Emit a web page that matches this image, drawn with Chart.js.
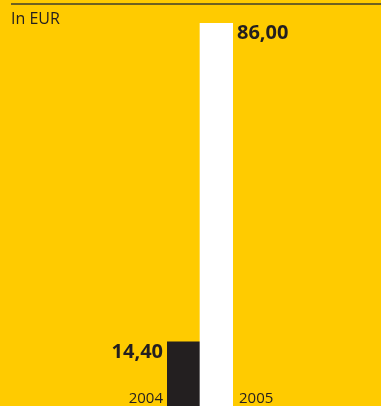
<!DOCTYPE html>
<html>
<head>
<meta charset="utf-8">
<script src="https://cdn.jsdelivr.net/npm/chart.js@4"></script>
<style>
  html, body { margin: 0; padding: 0; background: #FFCB00; }
  #wrap { position: relative; width: 381px; height: 406px; }
</style>
</head>
<body>
<div id="wrap"><canvas id="c"></canvas></div>
<script>
const years = ['2004', '2005'];
const prices = [14.40, 86.00];
const unitLabel = 'In EUR';

const barColors = ['#231f20', '#ffffff'];
const textColor = '#231f20';
const fontFamily = '"Open Sans", "DejaVu Sans", sans-serif';

function fmt(v) {
  return v.toFixed(2).replace('.', ',');
}

const decorations = {
  id: 'decorations',
  afterDatasetsDraw(chart) {
    const ctx = chart.ctx;
    const meta = chart.getDatasetMeta(0);
    ctx.save();

    // rule across the top and the unit caption
    ctx.fillStyle = '#6f6220';
    ctx.fillRect(11, 3, chart.width - 11, 2);
    ctx.fillStyle = textColor;
    ctx.font = '16px ' + fontFamily;
    ctx.textAlign = 'left';
    ctx.textBaseline = 'alphabetic';
    ctx.fillText(unitLabel, 11, 24);

    meta.data.forEach((bar, i) => {
      const half = bar.width / 2;
      const first = i === 0;
      const x = first ? bar.x - half - 4 : bar.x + half + 4;
      ctx.textAlign = first ? 'right' : 'left';

      // value label beside the bar top
      ctx.font = 'bold 20px ' + fontFamily;
      ctx.fillText(fmt(prices[i]), x, bar.y + 16);

      // year label beside the bar foot
      ctx.font = '15px ' + fontFamily;
      ctx.fillText(years[i], first ? x : x + 2, chart.chartArea.bottom - 3);
    });
    ctx.restore();
  }
};

new Chart(document.getElementById('c'), {
  type: 'bar',
  data: {
    labels: years,
    datasets: [{
      data: prices,
      backgroundColor: barColors,
      borderWidth: 0,
      barPercentage: 1,
      categoryPercentage: 1
    }]
  },
  options: {
    responsive: true,
    maintainAspectRatio: false,
    animation: false,
    layout: { padding: { left: 167, right: 148, top: 23, bottom: 0 } },
    plugins: { legend: { display: false }, tooltip: { enabled: false } },
    scales: {
      x: { display: false },
      y: { display: false, min: 0, max: 86 }
    }
  },
  plugins: [decorations]
});
</script>
</body>
</html>
